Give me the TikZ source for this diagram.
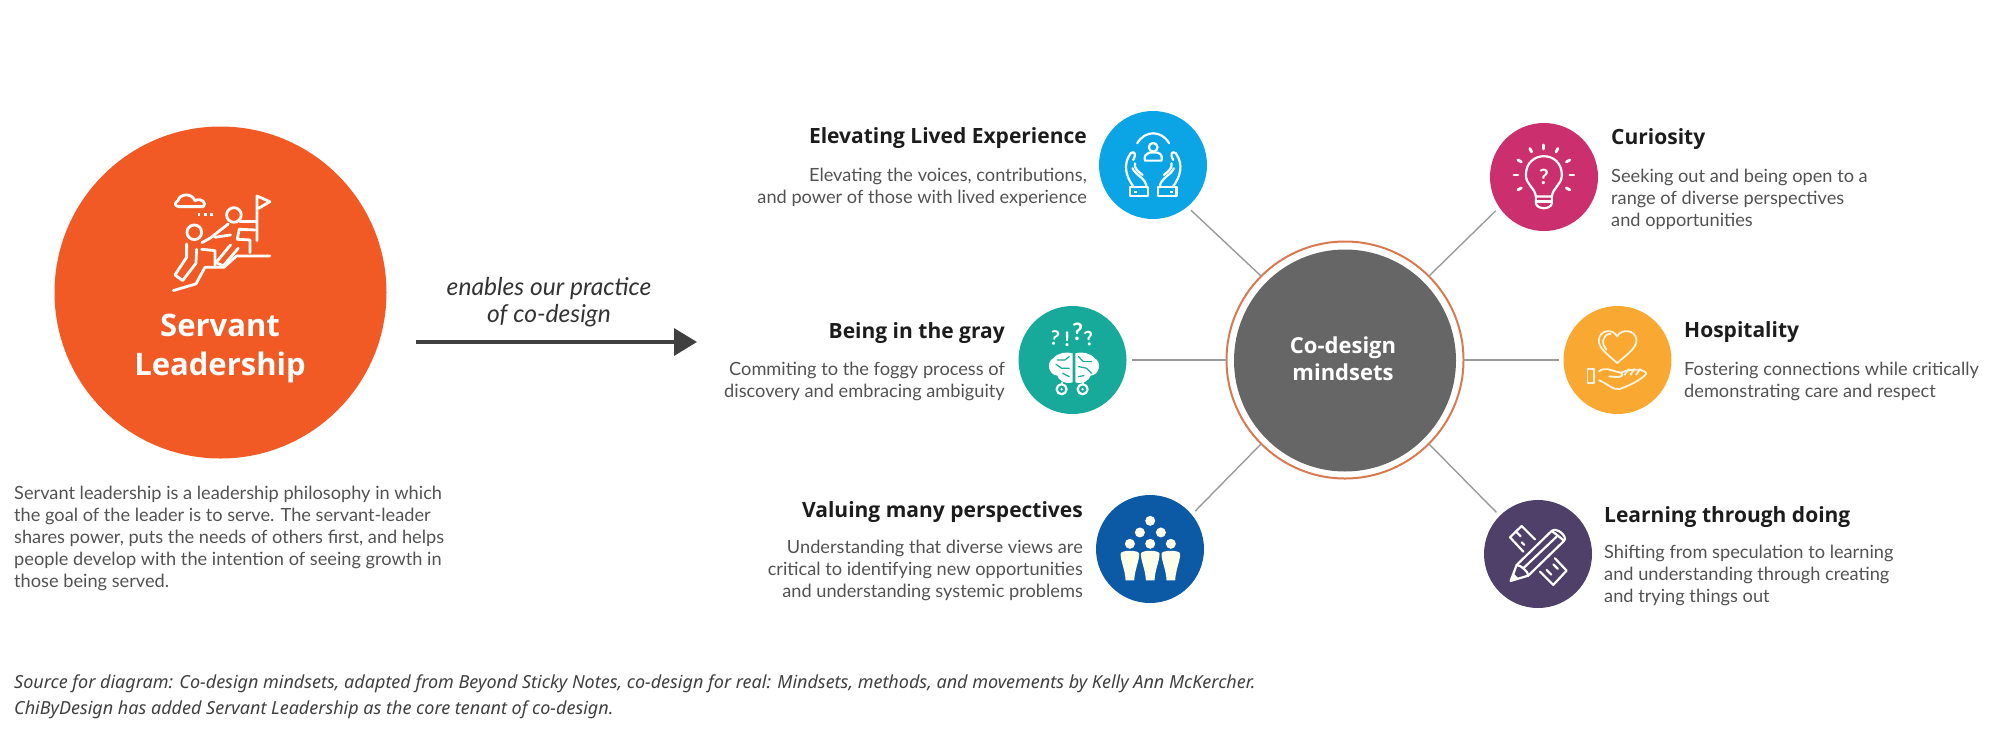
\documentclass[tikz,border=0pt]{standalone}
\usepackage{fontspec}
\setmainfont{Lato}
\newfontfamily\headfont{Open Sans}
\newfontfamily\captionfont{Noto Sans}
\usetikzlibrary{positioning}
\usetikzlibrary{arrows.meta}
\definecolor{leadorange}{HTML}{F15A24}
\definecolor{elevblue}{HTML}{0BA5E6}
\definecolor{grayteal}{HTML}{17A999}
\definecolor{manynavy}{HTML}{0C5AA6}
\definecolor{curiopink}{HTML}{CC2F6E}
\definecolor{hospamber}{HTML}{F9A832}
\definecolor{learnplum}{HTML}{4E4068}
\definecolor{hubgray}{HTML}{666666}
\definecolor{ringorange}{HTML}{D9794F}
\definecolor{spokegray}{HTML}{9A9A9A}
\definecolor{inkblack}{HTML}{1C1C1C}
\definecolor{inkgray}{HTML}{525252}

\begin{document}
\begin{tikzpicture}[x=1pt,y=-1pt,
  bubble/.style={circle,minimum size=108pt,inner sep=0pt,outer sep=5pt},
  title/.style={inner sep=0pt,text=inkblack,font=\headfont\fontsize{21}{24}\selectfont\bfseries},
  blurb/.style={inner sep=0pt,text=inkgray,font=\fontsize{18.2}{21.8}\selectfont},
  spoke/.style={draw=spokegray,line width=1.4pt},
  icon/.style={color=white,line width=2.2pt,line cap=round,line join=round}]
  \useasboundingbox (0,0) rectangle (2000,748);

  % Servant leadership on the left
  \node[circle,fill=leadorange,minimum size=332pt,inner sep=0pt] (lead) at (220.5,292.5) {};
  \node[anchor=base,text=white,align=center,inner sep=0pt,font=\headfont\fontsize{31}{39}\selectfont\bfseries] (leadname) at (220,375) {Servant\\Leadership};
  \node[anchor=base west,align=left,blurb] (leadtext) at (14,587) {Servant leadership is a leadership philosophy in which\\the goal of the leader is to serve. The servant-leader\\shares power, puts the needs of others first, and helps\\people develop with the intention of seeing growth in\\those being served.};

  \coordinate (tail) at (416,342);
  \coordinate (tip) at (697,342);
  \draw[line width=3.4pt,draw=black!75,-{Triangle[length=23pt,width=27pt]}] (tail) -- (tip);
  \node[anchor=base,align=center,inner sep=0pt,text=black!80,font=\fontsize{24.6}{27}\selectfont\itshape] (enables) at (549,322) {enables our practice\\of co-design};

  % The hub with its ring
  \node[circle,draw=ringorange,line width=2pt,minimum size=237pt,inner sep=0pt,outer sep=0pt] (ring) at (1345,360) {};
  \node[circle,fill=hubgray,minimum size=222pt,inner sep=0pt] (hub) at (1345,360.5) {};
  \node[anchor=base,text=white,align=center,inner sep=0pt,font=\headfont\fontsize{22}{27}\selectfont\bfseries] (hubname) at (1343,380) {Co-design\\mindsets};

  % Left-hand mindsets
  \node[bubble,fill=elevblue] (elev) at (1153,165) {};
  \node[bubble,fill=grayteal] (gray) at (1072.5,360) {};
  \node[bubble,fill=manynavy] (many) at (1150,549) {};
  \node[title,anchor=base east] (elevt) at (1087,143) {Elevating Lived Experience};
  \node[blurb,align=right,anchor=base east] (elevb) at ([yshift=-60pt]elevt.base east) {Elevating the voices, contributions,\\and power of those with lived experience};
  \node[title,anchor=base east] (grayt) at (1005,338) {Being in the gray};
  \node[blurb,align=right,anchor=base east] (grayb) at ([yshift=-59pt]grayt.base east) {Commiting to the foggy process of\\discovery and embracing ambiguity};
  \node[title,anchor=base east] (manyt) at (1083,517) {Valuing many perspectives};
  \node[blurb,align=right,anchor=base east] (manyb) at ([yshift=-80pt]manyt.base east) {Understanding that diverse views are\\critical to identifying new opportunities\\and understanding systemic problems};

  % Right-hand mindsets
  \node[bubble,fill=curiopink] (curio) at (1544,177) {};
  \node[bubble,fill=hospamber] (hosp) at (1617.5,360) {};
  \node[bubble,fill=learnplum] (learn) at (1538,554) {};
  \node[title,anchor=base west] (curiot) at (1611,144) {Curiosity};
  \node[blurb,align=left,anchor=base west] (curiob) at ([yshift=-82pt]curiot.base west) {Seeking out and being open to a\\range of diverse perspectives\\and opportunities};
  \node[title,anchor=base west] (hospt) at (1684,337) {Hospitality};
  \node[blurb,align=left,anchor=base west] (hospb) at ([yshift=-60pt]hospt.base west) {Fostering connections while critically\\demonstrating care and respect};
  \node[title,anchor=base west] (learnt) at (1604,522) {Learning through doing};
  \node[blurb,align=left,anchor=base west] (learnb) at ([yshift=-80pt]learnt.base west) {Shifting from speculation to learning\\and understanding through creating\\and trying things out};

  \draw[spoke] (ring.135) -- (elev.-50);
  \draw[spoke] (ring.180) -- (gray.0);
  \draw[spoke] (ring.225) -- (many.40);
  \draw[spoke] (ring.45) -- (curio.215);
  \draw[spoke] (ring.0) -- (hosp.180);
  \draw[spoke] (ring.-45) -- (learn.135);

  % Icons, drawn in 3x crop units
  \begin{scope}[icon,line width=2.8pt,shift={(160,180)},x=.333pt,y=-.333pt]
    \draw (58,80) -- (130,80) .. controls (142,70) and (125,52) .. (105,62) .. controls (95,38) and (60,40) .. (54,62) .. controls (42,68) and (44,80) .. (58,80);
    \foreach \dotx in {117,136,155} \fill (\dotx-4,99) rectangle (\dotx+4,107);
    \draw (222,105) circle (22);
    \draw (103,157) circle (22);
    \draw (291,182) -- (291,48) -- (330,65) -- (296,85);
    \draw (240,125) -- (288,125);
    \draw (238,148) -- (285,150);
    \draw (238,148) -- (232,178) -- (270,180) -- (270,218);
    \draw (205,132) -- (150,175) -- (126,188);
    \draw (212,165) -- (165,172);
    \draw (212,195) -- (168,248) -- (190,258) -- (235,205);
    \draw (80,192) -- (80,232) -- (45,285) -- (68,302) -- (108,250) -- (110,208);
    \draw (125,208) -- (165,212) -- (165,262);
    \draw (40,332) -- (108,312) -- (135,262) -- (192,262) -- (230,228) -- (330,228);
  \end{scope}

  \begin{scope}[icon,shift={(1020,110)},x=.333pt,y=-.333pt]
    \draw (352,100) .. controls (375,60) and (425,60) .. (448,100);
    \draw (400,112) circle (13);
    \draw (375,152) -- (425,152) .. controls (430,130) and (415,130) .. (412,128) -- (388,128) .. controls (380,132) and (372,135) .. (375,152);
    \draw (330,232) rectangle (385,258);
    \draw (415,232) rectangle (470,258);
    \fill (342,242) rectangle (350,248);
    \fill (450,242) rectangle (458,248);
    \draw (342,232) .. controls (318,200) and (308,165) .. (332,130) .. controls (345,120) and (350,135) .. (340,150);
    \draw (338,175) .. controls (345,195) and (380,205) .. (380,232);
    \draw (345,160) .. controls (342,175) and (355,185) .. (368,195);
    \draw (458,232) .. controls (482,200) and (492,165) .. (468,130) .. controls (455,120) and (450,135) .. (460,150);
    \draw (462,175) .. controls (455,195) and (420,205) .. (420,232);
    \draw (455,160) .. controls (458,175) and (445,185) .. (432,195);
  \end{scope}

  \begin{scope}[icon,shift={(1020,305)},x=.333pt,y=-.333pt]
    \node[text=white,inner sep=0pt,rotate=-8,font=\fontsize{20}{20}\selectfont\bfseries] (qa) at (105,98) {?};
    \node[text=white,inner sep=0pt,font=\fontsize{20}{20}\selectfont\bfseries] (qb) at (142,102) {!};
    \node[text=white,inner sep=0pt,font=\fontsize{24}{24}\selectfont\bfseries] (qc) at (173,80) {?};
    \node[text=white,inner sep=0pt,rotate=10,font=\fontsize{20}{20}\selectfont\bfseries] (qd) at (207,102) {?};
    \fill (158,145) -- (158,232) .. controls (135,240) and (115,225) .. (112,212) .. controls (85,210) and (78,170) .. (100,160) .. controls (115,142) and (140,140) .. (158,145);
    \fill (166,145) -- (166,232) .. controls (189,240) and (209,225) .. (212,212) .. controls (240,210) and (246,170) .. (224,160) .. controls (209,142) and (184,140) .. (166,145);
    \draw[grayteal,line width=1.2pt] (148,155) -- (135,165) -- (112,165) (148,190) -- (125,190) -- (108,178) (148,215) -- (128,205) (176,155) -- (190,170) -- (215,170) (176,185) -- (200,190) -- (215,205) (176,215) -- (192,212);
    \draw (125,233) -- (125,238) (188,233) -- (188,238);
    \draw (125,253) circle (15);
    \draw (188,253) circle (15);
    \fill (125,253) circle (4);
    \fill (188,253) circle (4);
  \end{scope}

  \begin{scope}[icon,shift={(700,340)},x=.333pt,y=-.333pt]
    \foreach \hx/\hy in {1352/543,1321/578,1384/578,1291/612,1352/612,1414/612}
      \fill[white!92!yellow] (\hx,\hy) circle (15);
    \foreach \hx in {1291,1352,1414}
      \fill[white!92!yellow] (\hx-28,642) .. controls (\hx-28,630) and (\hx+28,630) .. (\hx+28,642) .. controls (\hx+28,665) and (\hx+14,690) .. (\hx+13,722) -- (\hx-13,722) .. controls (\hx-14,690) and (\hx-28,665) .. (\hx-28,642);
  \end{scope}

  \begin{scope}[icon,shift={(1400,100)},x=.333pt,y=-.333pt]
    \draw (408,290) .. controls (405,262) and (378,255) .. (378,225) .. controls (378,150) and (486,150) .. (486,225) .. controls (486,255) and (459,262) .. (456,290);
    \draw (408,290) -- (408,310) .. controls (412,330) and (452,330) .. (456,310) -- (456,290) -- cycle;
    \draw (408,305) -- (456,305);
    \node[text=white,inner sep=0pt,font=\fontsize{21}{21}\selectfont\bfseries] (qe) at (432,230) {?};
    \begin{scope}[line width=2.8pt]
      \foreach \rayang in {-90,-118,-62,-150,-30,180,0,150,30}
        \draw (432,225) ++(\rayang:78) -- ++(\rayang:12);
    \end{scope}
  \end{scope}

  \begin{scope}[icon,color=white!85!hospamber,line width=1.8pt,shift={(1400,100)},x=.333pt,y=-.333pt]
    \draw (652,790) .. controls (625,765) and (595,745) .. (597,720) .. controls (600,690) and (640,685) .. (652,710) .. controls (665,685) and (708,690) .. (710,720) .. controls (712,745) and (680,765) .. (652,790);
    \draw (620,750) .. controls (605,735) and (605,705) .. (632,702);
    \draw (563,808) rectangle (582,850);
    \draw (598,815) .. controls (615,800) and (630,812) .. (660,818) .. controls (672,822) and (672,832) .. (650,832) -- (628,830);
    \draw (598,842) .. controls (620,850) and (640,872) .. (660,868) .. controls (680,860) and (720,845) .. (740,822) .. controls (735,808) and (700,805) .. (665,818);
    \foreach \hashx in {675,692,709}
      \draw (\hashx,825) -- (\hashx+12,808);
  \end{scope}

  \begin{scope}[icon,shift={(1490,505)},x=.333pt,y=-.333pt]
    \draw (135,103) -- (95,63) -- (60,97) -- (100,140);
    \draw (78,80) -- (92,94) (95,112) -- (103,120);
    \draw (195,160) -- (230,197) -- (190,240) -- (150,200);
    \draw (170,195) -- (184,209) (190,178) -- (204,192);
    \draw (62,228) -- (80,180) -- (185,78) .. controls (200,65) and (235,95) .. (222,108) -- (115,212) -- cycle;
    \draw (80,180) .. controls (92,180) and (115,200) .. (115,212);
    \draw (185,78) .. controls (195,85) and (215,100) .. (222,108);
    \draw (100,190) -- (200,95);
    \fill (62,228) -- (70,205) -- (85,220) -- cycle;
  \end{scope}

  % Source note
  \node[anchor=base west,align=left,inner sep=0pt,text=black!75,font=\captionfont\fontsize{18}{26}\selectfont\itshape] (source) at (14,714) {Source for diagram: Co-design mindsets, adapted from Beyond Sticky Notes, co-design for real: Mindsets, methods, and movements by Kelly Ann McKercher.\\ChiByDesign has added Servant Leadership as the core tenant of co-design.};
\end{tikzpicture}
\end{document}
